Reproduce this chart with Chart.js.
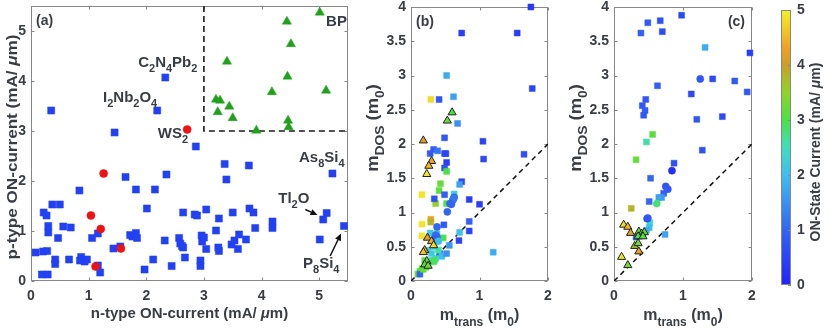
<!DOCTYPE html>
<html><head><meta charset="utf-8">
<script src="https://cdn.jsdelivr.net/npm/chart.js@4.4.1/dist/chart.umd.min.js"></script>
<style>
html,body{margin:0;padding:0;background:#fff;}
#wrap{position:relative;width:830px;height:334px;overflow:hidden;background:#fff;}
canvas{position:absolute;left:0;top:0;}
</style></head><body>
<div id="wrap">
<canvas id="ca" width="830" height="334"></canvas>
<canvas id="cb" width="830" height="334"></canvas>
<canvas id="cc" width="830" height="334"></canvas>
<canvas id="cd" width="830" height="334"></canvas>
</div>
<script>
// ---------------- DATA ----------------
// Panel (a): n-type vs p-type ON-current (mA/um)
const aBlueX = [0.35,1.45,2.33,2.19,2.86,3.36,3.78,
  0.08,0.19,0.29,0.22,0.27,0.30,0.30,0.21,0.28,0.37,0.50,0.47,0.42,0.42,0.56,0.69,0.66,0.84,0.87,0.85,
  0.93,0.97,1.06,1.16,1.16,1.20,1.43,1.55,1.64,1.72,1.76,1.82,1.84,1.82,1.97,2.01,2.12,2.15,2.32,2.35,
  2.44,2.57,2.59,2.62,2.64,2.67,2.64,2.84,2.88,2.94,2.94,2.96,2.97,3.00,3.04,3.04,3.21,3.25,3.26,3.26,
  3.39,3.48,3.50,3.53,3.59,3.61,3.73,3.79,3.86,3.89,4.19,4.19,5.01,5.07,5.13,5.23,5.43];
const aBlueY = [3.41,2.97,4.07,3.41,2.69,2.34,2.31,
  0.57,0.13,0.13,1.37,1.31,1.10,0.97,0.59,0.60,1.53,1.53,0.86,0.43,0.34,1.09,1.07,0.43,1.81,0.48,0.41,
  0.39,0.43,0.86,0.95,0.31,0.17,0.65,0.69,2.08,0.92,0.89,0.96,0.86,1.83,0.23,1.45,0.43,1.83,0.81,2.13,
  0.30,0.86,0.75,0.70,0.67,0.47,1.37,1.33,1.31,0.41,0.30,0.91,0.79,0.87,1.43,0.64,1.01,0.67,1.25,0.60,
  2.03,0.73,1.37,0.81,0.64,0.93,0.83,1.45,1.37,1.06,1.19,1.06,0.83,1.23,1.36,2.15,1.10];
const aRedX = [2.71,1.26,1.04,1.21,1.56,1.12];
const aRedY = [3.03,2.15,1.31,1.04,0.65,0.29];
const aGreenX = [5.01,4.44,4.51,3.40,4.45,4.18,5.12,3.21,3.28,3.44,3.24,3.50,4.46,4.47,3.91];
const aGreenY = [5.37,5.19,4.74,4.39,4.09,3.78,3.81,3.63,3.61,3.49,3.38,3.26,3.21,3.08,3.01];
const aBoxX = [3, 3, 5.5];
const aBoxY = [5.5, 3, 3];
const aTicks = [0,1,2,3,4,5];
const aNames = ['C2N4Pb2','I2Nb2O4','WS2','BP','As8Si4','Tl2O','P8Si4'];

// Panel (b)
const bSqX = [1.75,0.74,1.55,1.77,0.52,0.29,0.41,0.62,0.68,0.49, 1.05,0.33,0.28,0.39,0.49,0.51,0.52,0.49,0.52,1.06,
  1.65,0.43,0.41,0.16,0.49,0.36,0.52,0.34,0.74,0.71, 0.63,0.85,1.00,0.16,0.29,0.29,0.48,0.85,0.85,0.70,
  0.71,0.47,0.56,1.20,0.16,0.30,0.42,0.45,0.36,0.52, 0.16,0.13,0.10,0.13,0.22,0.25,0.30,0.34,0.40,0.34,
  0.28,0.38,0.18,0.33,0.20,0.25];
const bSqY = [4.00,3.62,3.62,2.81,3.00,2.65,2.65,2.69,2.30,2.09, 2.04,1.92,1.86,1.90,1.86,1.86,1.73,1.65,1.60,1.78,
  1.85,1.42,1.32,1.26,1.26,1.13,1.13,1.20,1.45,1.41, 1.27,1.19,1.12,0.83,0.90,0.86,0.82,0.87,0.73,0.59,
  0.71,0.63,0.52,0.42,0.66,0.40,0.40,0.36,0.33,0.40, 0.18,0.14,0.10,0.10,0.20,0.25,0.30,0.30,0.45,0.50,
  0.70,0.69,0.17,0.28,0.30,0.45];
const bSqC = [0.3,0.4,0.4,0.5,1.8,4.8,0.8,1.7,1.5,0.8, 0.5,0.9,0.8,1.2,0.6,0.5,0.4,0.7,3.0,0.6,
  0.7,3.2,3.1,4.9,0.9,3.5,3.0,0.7,0.5,1.7, 2.2,0.4,0.4,4.9,4.3,3.8,0.8,0.9,0.5,0.5,
  2.0,3.0,1.6,1.8,4.9,2.2,0.8,2.0,2.3,1.5, 3.2,3.0,3.3,1.0,3.0,2.6,2.4,3.0,2.6,2.3,
  2.2,2.3,3.2,2.9,3.1,2.1];
const bCiX = [0.63,0.61,0.59,0.62,0.53,0.38,0.36,0.38,0.33,0.57,0.36,0.40];
const bCiY = [1.22,1.18,1.12,1.20,1.01,0.79,0.67,0.64,0.60,1.13,0.62,0.58];
const bCiC = [1.0,1.0,1.0,1.2,1.0,1.0,1.1,1.0,1.2,1.0,0.9,2.0];
const bTrX = [0.60,0.53,0.18,0.30,0.26,0.23,0.24,0.30,0.33,0.20,0.18,0.23,0.20,0.25];
const bTrY = [2.46,2.34,2.05,1.75,1.68,1.56,0.63,0.58,0.52,0.45,0.42,0.29,0.24,0.22];
const bTrC = [3.0,3.2,4.2,4.3,4.5,4.9,4.2,4.4,4.8,4.3,4.6,3.2,3.1,3.3];

// Panel (c)
const cSqX = [0.98,0.67,0.49,0.39,0.70,1.32,1.97,0.63,1.43,1.75, 1.12,1.93,0.46,0.41,0.45,0.43,1.20,1.57,0.56,0.47,
  1.28,0.32,0.87,0.53,0.72,0.69,0.65,0.51,0.25,0.52, 0.51,0.47,0.74,0.32];
const cSqY = [3.88,3.80,3.77,3.62,3.64,3.41,3.33,2.85,2.95,2.92, 2.73,2.76,2.65,2.56,2.49,2.42,2.36,2.40,2.14,2.03,
  1.91,1.77,1.72,1.50,1.28,1.22,1.22,1.16,1.06,0.85, 0.78,0.74,0.68,0.64];
const cSqC = [0.6,0.7,0.8,0.9,0.6,1.8,0.4,0.9,0.6,0.8, 0.6,0.8,0.8,0.8,0.9,0.8,0.8,0.6,3.1,2.6,
  0.7,3.2,0.7,1.0,0.9,1.6,1.7,1.0,3.8,2.4, 2.0,1.8,1.7,0.9];
const cCiX = [1.25,0.84,0.75,0.78,0.62,0.48,0.49];
const cCiY = [2.95,1.61,1.38,1.34,1.13,0.91,0.92];
const cCiC = [0.8,0.2,0.8,0.8,2.8,0.6,0.8];
const cTrX = [0.14,0.20,0.24,0.36,0.40,0.44,0.35,0.42,0.30,0.35,0.36,0.11,0.20];
const cTrY = [0.82,0.79,0.70,0.72,0.69,0.71,0.65,0.65,0.51,0.55,0.43,0.35,0.23];
const cTrC = [4.8,4.5,4.2,3.2,3.0,3.2,3.0,3.1,3.6,3.3,4.3,4.9,3.3];

const mTicksX = [0,1,2];
const mTicksY = [0,0.5,1,1.5,2,2.5,3,3.5,4];
const diagX = [0,2];
const diagY = [0,2];
const cbTicks = [0,1,2,3,4,5];

// ---------------- STYLE / HELPERS ----------------
const FONT = '"Liberation Sans", Arial, Helvetica, sans-serif';
const TXT = '#383c44';
const FRAME = '#878787';
const STOPS = [[0,35,35,250],[1,52,100,242],[2,62,190,240],[2.5,62,222,190],[3,75,225,70],
  [3.5,145,210,40],[4,200,160,40],[4.3,238,160,35],[5,242,242,40]];
function cmap(v){
  v = Math.max(0, Math.min(5, v));
  for (let i=1;i<STOPS.length;i++){
    const a=STOPS[i-1], b=STOPS[i];
    if (v<=b[0]){
      const t=(v-a[0])/(b[0]-a[0]);
      return 'rgb('+[1,2,3].map(k=>Math.round(a[k]+(b[k]-a[k])*t)).join(',')+')';
    }
  }
  return 'rgb(242,242,40)';
}
const pts = (xs, ys) => xs.map((x,i)=>({x, y: ys[i]}));

function drawRich(ctx, parts, x, y, size, align){
  const sub = Math.round(size*0.72);
  const fontFor = p => (p[1]==='i' ? 'italic bold ' : 'bold ') + (p[1]==='s' ? sub : size) + 'px ' + FONT;
  let w = 0;
  const ws = parts.map(p => { ctx.font = fontFor(p); const m = ctx.measureText(p[0]).width; w += m; return m; });
  let cx = align==='center' ? x - w/2 : (align==='right' ? x - w : x);
  ctx.textBaseline = 'alphabetic'; ctx.textAlign = 'left';
  parts.forEach((p,i) => {
    ctx.font = fontFor(p);
    ctx.fillText(p[0], cx, y + (p[1]==='s' ? size*0.36 : 0));
    cx += ws[i];
  });
}
function drawRichRot(ctx, parts, bx, cy, size, stretch){
  ctx.save();
  ctx.translate(bx, cy);
  ctx.rotate(-Math.PI/2);
  ctx.scale(stretch, 1);
  drawRich(ctx, parts, 0, 0, size, 'center');
  ctx.restore();
}
function chem(name){
  // split chemical formula into main text and subscript digits
  const out = [];
  name.replace(/([A-Za-z]+)|(\d+)/g, (m, a, d) => { out.push(a ? [a,''] : [d,'s']); return m; });
  return out;
}

function frame(chart, xt, yt, tl){
  const {ctx, chartArea:a, scales:{x, y}} = chart;
  ctx.save();
  ctx.strokeStyle = FRAME; ctx.lineWidth = 1;
  const L = Math.round(a.left)+0.5, R = Math.round(a.right)-0.5, T = Math.round(a.top)+0.5, B = Math.round(a.bottom)-0.5;
  ctx.strokeRect(L, T, R-L, B-T);
  ctx.beginPath();
  xt.forEach(v => { const p = Math.round(x.getPixelForValue(v))+0.5;
    ctx.moveTo(p, B); ctx.lineTo(p, B-tl); ctx.moveTo(p, T); ctx.lineTo(p, T+tl); });
  yt.forEach(v => { const p = Math.round(y.getPixelForValue(v))+0.5;
    ctx.moveTo(L, p); ctx.lineTo(L+tl, p); ctx.moveTo(R, p); ctx.lineTo(R-tl, p); });
  ctx.stroke();
  ctx.restore();
}

function makeChart(id, area, xr, yr, xt, yt, datasets, extra, fmt){
  const [L,T,R,B] = area;
  const tickFont = {family: FONT, size: 14, weight: 'bold'};
  return new Chart(document.getElementById(id), {
    type: 'scatter',
    data: { datasets },
    options: {
      responsive: false, animation: false, devicePixelRatio: 1,
      layout: { padding: { left: 0, top: T, right: 830 - R, bottom: 0 } },
      plugins: { legend: {display:false}, tooltip: {enabled:false} },
      elements: { point: { hoverRadius: 0 } },
      scales: {
        x: { type: 'linear', min: xr[0], max: xr[1],
          afterBuildTicks: s => { s.ticks = xt.map(v => ({value: v})); },
          afterFit: s => { s.height = 334 - B; s.paddingLeft = 0; s.paddingRight = 0; },
          grid: {display: false, drawTicks: false}, border: {display: false},
          ticks: {font: tickFont, color: TXT, padding: 7, maxRotation: 0, autoSkip: false, callback: v => fmt(v)} },
        y: { type: 'linear', min: yr[0], max: yr[1],
          afterBuildTicks: s => { s.ticks = yt.map(v => ({value: v})); },
          afterFit: s => { s.width = L; s.paddingTop = 0; s.paddingBottom = 0; },
          grid: {display: false, drawTicks: false}, border: {display: false},
          ticks: {font: tickFont, color: TXT, padding: 5, autoSkip: false, callback: v => fmt(v)} }
      }
    },
    plugins: [{
      id: 'frm',
      beforeDatasetsDraw(chart){ frame(chart, xt, yt, 3); },
      afterDraw(chart){ chart.ctx.save(); chart.ctx.fillStyle = TXT; extra(chart); chart.ctx.restore(); }
    }]
  });
}

const fmtA = v => String(v);

// ---------------- PANEL (a) ----------------
const aLabelPos = [[1.86,4.28],[1.25,3.58],[2.20,2.86],[5.12,5.10],[4.65,2.38],[4.29,1.56],[4.72,0.26]];
const aArrows = [[[4.76,1.43],[4.97,1.32]], [[5.19,0.50],[5.38,0.95]]];
makeChart('ca', [31,6,348,281], [0,5.5], [0,5.5], aTicks, aTicks, [
  {data: pts(aGreenX, aGreenY), pointStyle: 'triangle', pointRadius: 5.3, pointBackgroundColor: '#21a01c', pointBorderColor: '#21a01c', pointBorderWidth: 0.5, clip: false},
  {data: pts(aRedX, aRedY), pointStyle: 'circle', pointRadius: 4, pointBackgroundColor: '#ef1212', pointBorderColor: '#ef1212', pointBorderWidth: 0.5, clip: false},
  {data: pts(aBlueX, aBlueY), pointStyle: 'rect', pointRadius: 5, pointBackgroundColor: '#2241f3', pointBorderColor: '#2241f3', pointBorderWidth: 0.5, clip: false},
  {data: pts(aBoxX, aBoxY), showLine: true, borderColor: '#1a1a1a', borderWidth: 1.6, borderDash: [6,4], pointRadius: 0, fill: false}
], chart => {
  const {ctx, chartArea:a, scales:{x,y}} = chart;
  drawRich(ctx, [['(a)','']], a.left+5, a.top+19, 14, 'left');
  aNames.forEach((n,i) => drawRich(ctx, chem(n), x.getPixelForValue(aLabelPos[i][0]), y.getPixelForValue(aLabelPos[i][1]), 15, 'left'));
  ctx.strokeStyle = '#111'; ctx.fillStyle = '#111'; ctx.lineWidth = 1.5;
  aArrows.forEach(([f,t]) => {
    const x0 = x.getPixelForValue(f[0]), y0 = y.getPixelForValue(f[1]);
    const x1 = x.getPixelForValue(t[0]), y1 = y.getPixelForValue(t[1]);
    const ang = Math.atan2(y1-y0, x1-x0), hl = 7, hw = 3.2;
    const bx = x1 - hl*Math.cos(ang), by = y1 - hl*Math.sin(ang);
    ctx.beginPath(); ctx.moveTo(x0,y0); ctx.lineTo(bx,by); ctx.stroke();
    ctx.beginPath(); ctx.moveTo(x1,y1);
    ctx.lineTo(bx + hw*Math.sin(ang), by - hw*Math.cos(ang));
    ctx.lineTo(bx - hw*Math.sin(ang), by + hw*Math.cos(ang));
    ctx.closePath(); ctx.fill();
  });
  ctx.fillStyle = TXT;
  drawRich(ctx, [['n-type ON-current (mA/ ',''],['μ','i'],['m)','']], (a.left+a.right)/2, 318, 15, 'center');
  drawRichRot(ctx, [['p-type ON-current (mA/ ',''],['μ','i'],['m)','']], 17, 147, 15, 1.14);
}, fmtA);

// ---------------- PANELS (b), (c) ----------------
function massSets(sqX,sqY,sqC,ciX,ciY,ciC,trX,trY,trC){
  return [
    {data: pts(trX,trY), pointStyle: 'triangle', pointRadius: 4.7, pointBackgroundColor: trC.map(cmap), pointBorderColor: '#222', pointBorderWidth: 1, clip: false},
    {data: pts(ciX,ciY), pointStyle: 'circle', pointRadius: 3.6, pointBackgroundColor: ciC.map(cmap), pointBorderColor: ciC.map(cmap), pointBorderWidth: 0.5, clip: false},
    {data: pts(sqX,sqY), pointStyle: 'rect', pointRadius: 4.2, pointBackgroundColor: sqC.map(cmap), pointBorderColor: sqC.map(cmap), pointBorderWidth: 0.5, clip: false},
    {data: pts(diagX, diagY), showLine: true, borderColor: '#111', borderWidth: 1.5, borderDash: [5,4], pointRadius: 0, fill: false}
  ];
}
const mTitleX = [['m',''],['trans','s'],[' (m',''],['0','s'],[')','']];
const mTitleY = [['m',''],['DOS','s'],[' (m',''],['0','s'],[')','']];
function massExtra(tag, right){
  return chart => {
    const {ctx, chartArea:a} = chart;
    if (right) drawRich(ctx, [[tag,'']], a.right-7, a.top+19, 14, 'right');
    else drawRich(ctx, [[tag,'']], a.left+5, a.top+19, 14, 'left');
    drawRich(ctx, mTitleX, (a.left+a.right)/2, 320, 16, 'center');
    drawRichRot(ctx, mTitleY, a.left-33, 128, 16, 1.15);
  };
}
makeChart('cb', [411,7,548,281], [0,2], [0,4], mTicksX, mTicksY,
  massSets(bSqX,bSqY,bSqC,bCiX,bCiY,bCiC,bTrX,bTrY,bTrC), massExtra('(b)', false), fmtA);
makeChart('cc', [614,7,752,281], [0,2], [0,4], mTicksX, mTicksY,
  massSets(cSqX,cSqY,cSqC,cCiX,cCiY,cCiC,cTrX,cTrY,cTrC), massExtra('(c)', true), fmtA);

// ---------------- COLORBAR ----------------
new Chart(document.getElementById('cd'), {
  type: 'scatter',
  data: { datasets: [] },
  options: {
    responsive: false, animation: false, devicePixelRatio: 1,
    layout: { padding: { left: 781, top: 10, right: 0, bottom: 49 } },
    plugins: { legend: {display:false}, tooltip: {enabled:false} },
    scales: {
      x: { display: false, min: 0, max: 1 },
      y: { position: 'right', min: 0, max: 5,
        afterBuildTicks: s => { s.ticks = cbTicks.map(v => ({value: v})); },
        afterFit: s => { s.width = 39; s.paddingTop = 0; s.paddingBottom = 0; },
        grid: {display: false, drawTicks: false}, border: {display: false},
        ticks: {font: {family: FONT, size: 14, weight: 'bold'}, color: TXT, padding: 6, autoSkip: false} }
    }
  },
  plugins: [{
    id: 'cbar',
    beforeDraw(chart){
      const {ctx, chartArea:a, scales:{y}} = chart;
      const g = ctx.createLinearGradient(0, y.getPixelForValue(0), 0, y.getPixelForValue(5));
      STOPS.forEach(s => g.addColorStop(s[0]/5, 'rgb('+s[1]+','+s[2]+','+s[3]+')'));
      ctx.save();
      ctx.fillStyle = g;
      ctx.fillRect(a.left, a.top, a.right-a.left, a.bottom-a.top);
      ctx.strokeStyle = FRAME; ctx.lineWidth = 1;
      ctx.strokeRect(Math.round(a.left)+0.5, Math.round(a.top)+0.5, Math.round(a.right-a.left)-1, Math.round(a.bottom-a.top)-1);
      ctx.beginPath();
      cbTicks.forEach(v => { const p = Math.round(y.getPixelForValue(v))+0.5; ctx.moveTo(a.right, p); ctx.lineTo(a.right-3, p); });
      ctx.stroke();
      ctx.fillStyle = TXT;
      drawRichRot(ctx, [['ON-State Current (mA/ ',''],['μ','i'],['m)','']], 820, 152, 14, 1);
      ctx.restore();
    }
  }]
});
</script>
</body></html>
